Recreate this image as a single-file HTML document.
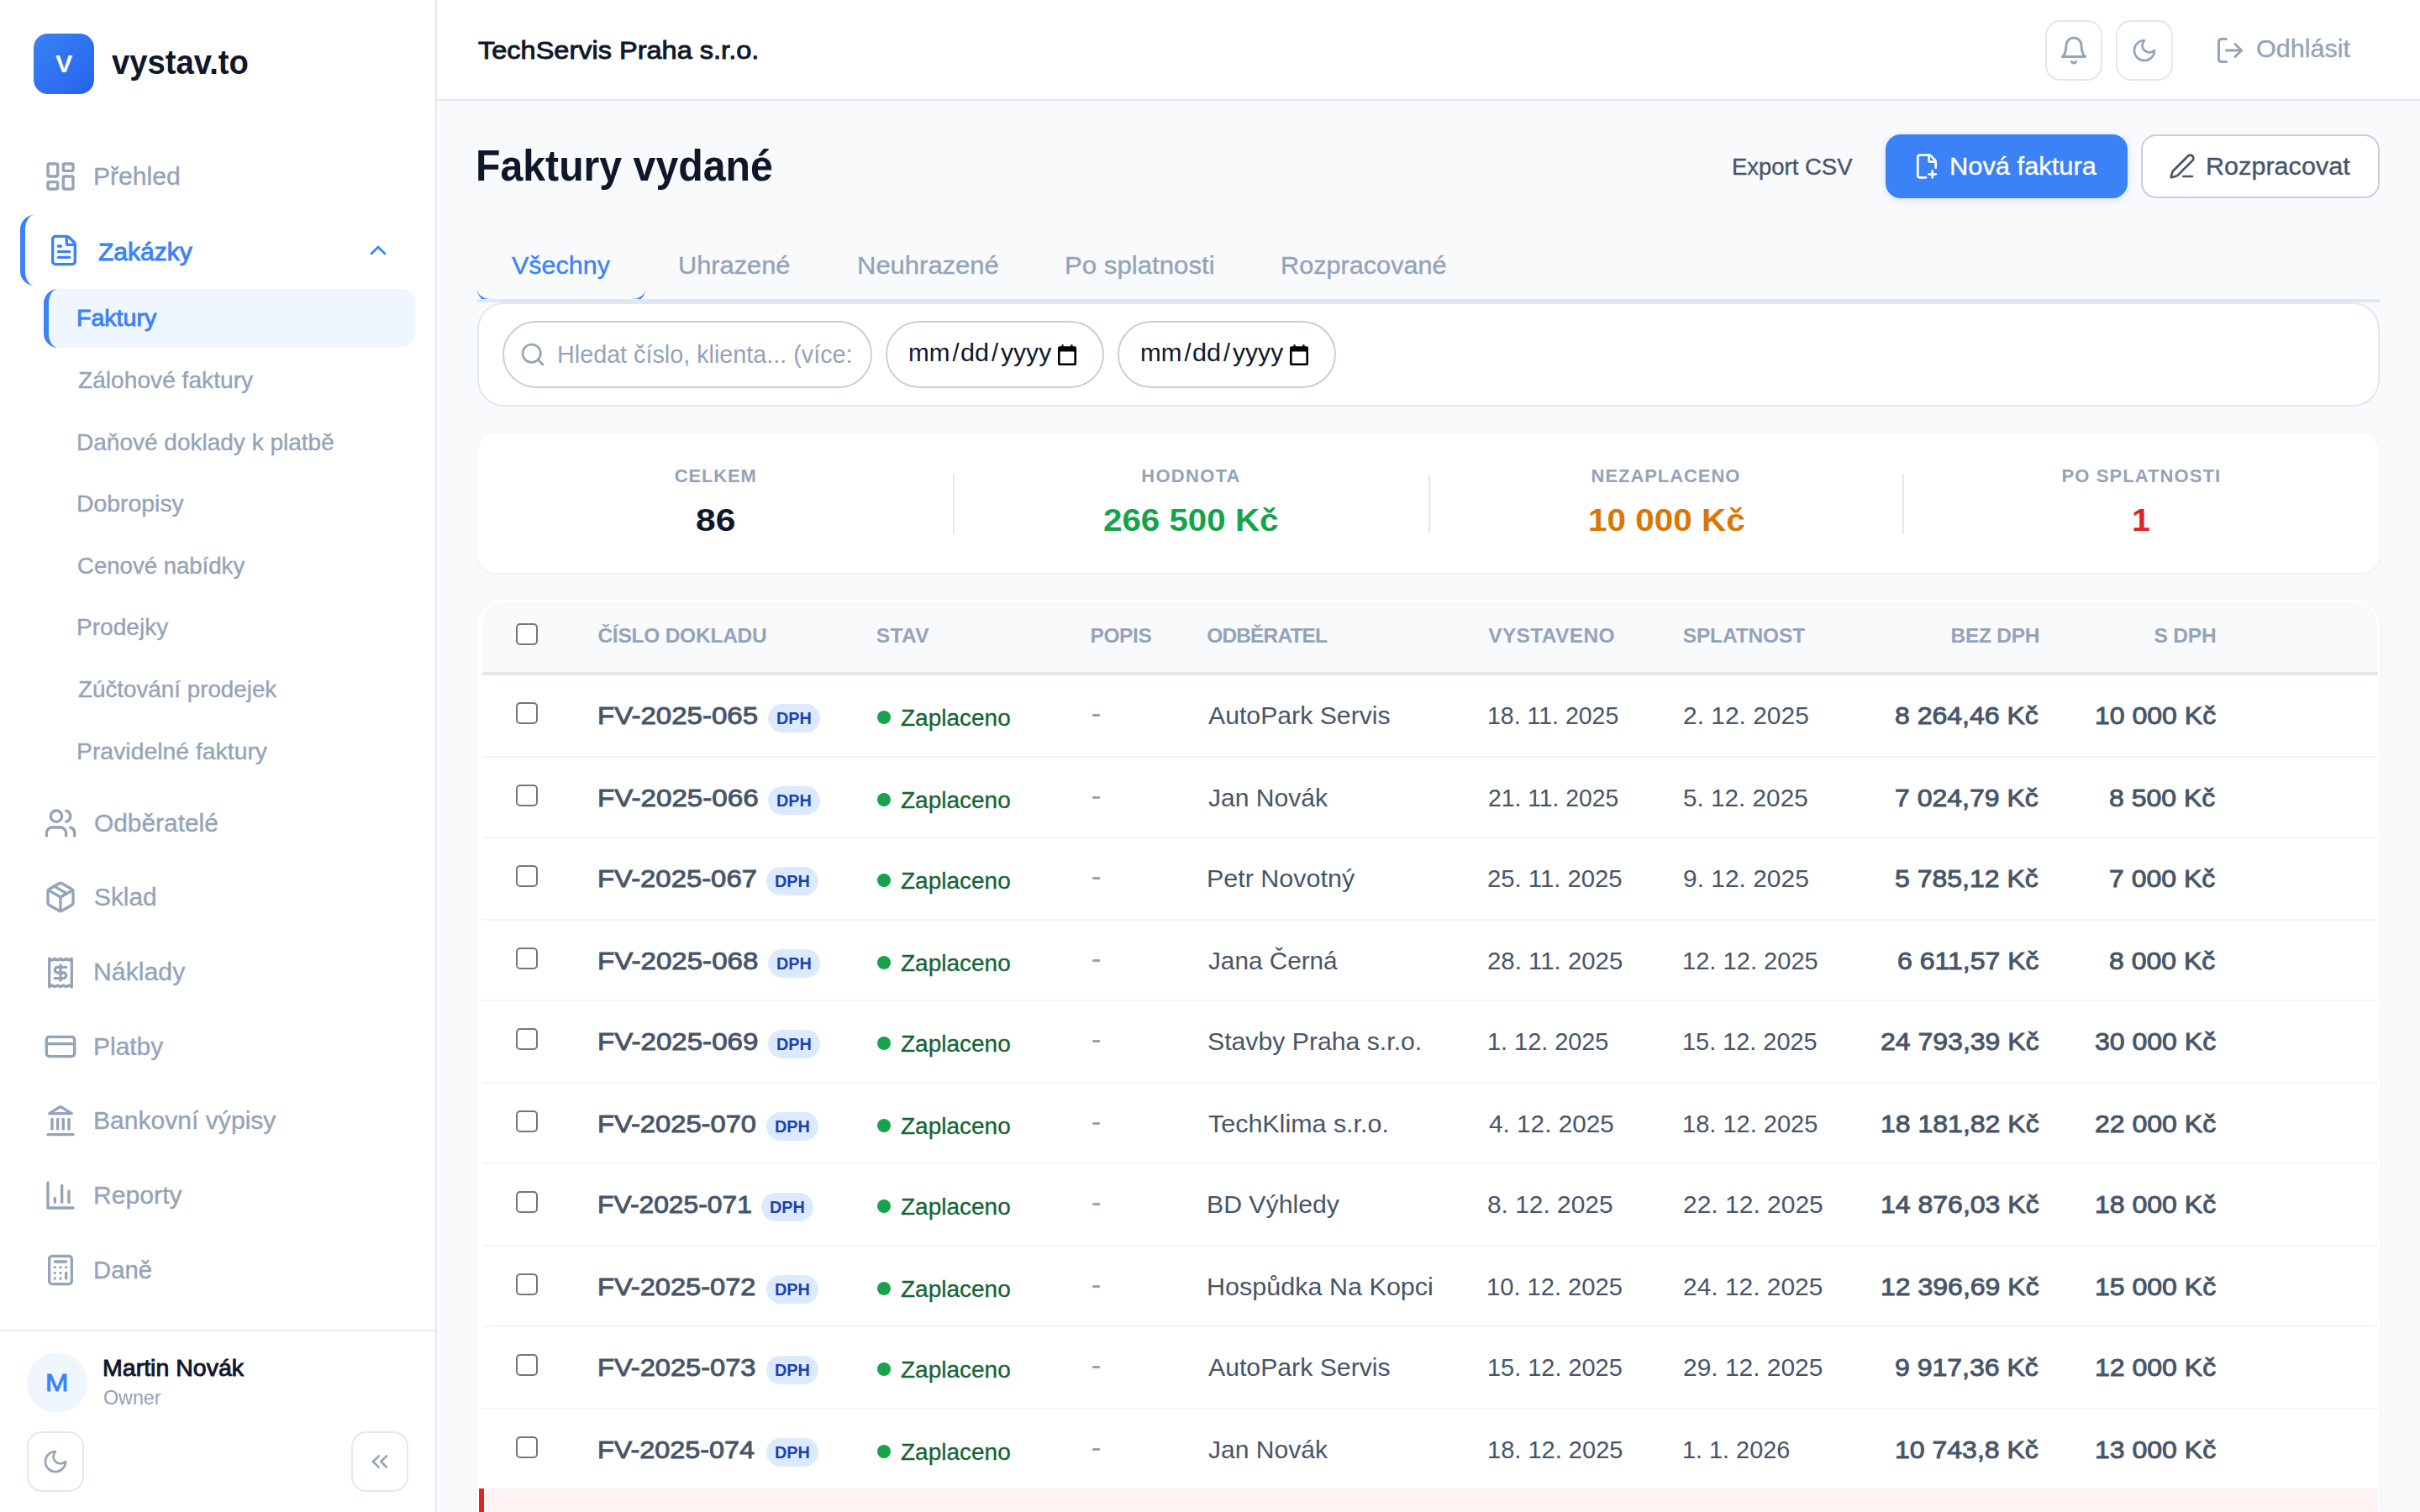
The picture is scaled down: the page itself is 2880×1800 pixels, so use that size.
<!DOCTYPE html>
<html lang="cs"><head><meta charset="utf-8"><title>Faktury vydané</title>
<style>
*{box-sizing:border-box;margin:0;padding:0}
html,body{width:2880px;height:1800px;overflow:hidden;background:#f8fafc;font-family:"Liberation Sans",sans-serif}
.a{position:absolute}
.t{position:absolute;white-space:pre;line-height:1;transform-origin:0 0;font-family:"Liberation Sans",sans-serif;z-index:5}
svg.i{position:absolute;fill:none;stroke-width:2;stroke-linecap:round;stroke-linejoin:round;z-index:4}
.g{stroke:#94a3b8}.b{stroke:#3b82f6}
.cb{position:absolute;width:26px;height:26px;border:2px solid #767676;border-radius:5px;background:#fff;left:614px}
.sep{position:absolute;left:574px;width:2256px;height:2px;background:#f1f5f9}
.badge{position:absolute;left:914px;width:62px;height:34px;border-radius:17px;background:#dbeafe}
.dot{position:absolute;left:1044px;width:16px;height:16px;border-radius:8px;background:#16a34a}
.dash{position:absolute;left:1299.5px;width:9.5px;height:2.4px;background:#94a3b8;border-radius:1px}
.ib{position:absolute;border:2px solid #e2e8f0;border-radius:18px;background:#fff}
</style></head><body>
<!-- ================= SIDEBAR ================= -->
<div class="a" style="left:0;top:0;width:520px;height:1800px;background:#fff;border-right:2px solid #e2e8f0"></div>
<div class="a" style="left:40px;top:40px;width:72px;height:72px;border-radius:17px;background:linear-gradient(135deg,#3b82f6 0%,#2563eb 100%)"></div>
<!-- Zakazky active group -->
<div class="a" style="left:24px;top:256px;width:476px;height:84px;border-left:6px solid #3b82f6;border-radius:17px"></div>
<!-- Faktury active sub -->
<div class="a" style="left:52px;top:344px;width:442px;height:70px;background:#eff6ff;border-left:6px solid #3b82f6;border-radius:17px"></div>
<!-- sidebar icons -->
<svg class="i g" style="left:52px;top:190px" width="40" height="40" viewBox="0 0 24 24"><rect width="7" height="9" x="3" y="3" rx="1"/><rect width="7" height="5" x="14" y="3" rx="1"/><rect width="7" height="9" x="14" y="12" rx="1"/><rect width="7" height="5" x="3" y="16" rx="1"/></svg>
<svg class="i b" style="left:56px;top:278px" width="40" height="40" viewBox="0 0 24 24"><path d="M6 22a2 2 0 0 1-2-2V4a2 2 0 0 1 2-2h8a2.4 2.4 0 0 1 1.704.706l3.588 3.588A2.4 2.4 0 0 1 20 8v12a2 2 0 0 1-2 2z"/><path d="M14 2v5a1 1 0 0 0 1 1h5"/><path d="M10 9H8"/><path d="M16 13H8"/><path d="M16 17H8"/></svg>
<svg class="i b" style="left:434px;top:282px" width="32" height="32" viewBox="0 0 24 24"><path d="m18 15-6-6-6 6"/></svg>
<svg class="i g" style="left:52px;top:960px" width="40" height="40" viewBox="0 0 24 24"><path d="M16 21v-2a4 4 0 0 0-4-4H6a4 4 0 0 0-4 4v2"/><circle cx="9" cy="7" r="4"/><path d="M22 21v-2a4 4 0 0 0-3-3.87"/><path d="M16 3.13a4 4 0 0 1 0 7.75"/></svg>
<svg class="i g" style="left:52px;top:1048px" width="40" height="40" viewBox="0 0 24 24"><path d="m7.5 4.27 9 5.15"/><path d="M21 8a2 2 0 0 0-1-1.73l-7-4a2 2 0 0 0-2 0l-7 4A2 2 0 0 0 3 8v8a2 2 0 0 0 1 1.73l7 4a2 2 0 0 0 2 0l7-4A2 2 0 0 0 21 16Z"/><path d="m3.3 7 8.7 5 8.7-5"/><path d="M12 22V12"/></svg>
<svg class="i g" style="left:52px;top:1138px" width="40" height="40" viewBox="0 0 24 24"><path d="M4 2v20l2-1 2 1 2-1 2 1 2-1 2 1 2-1 2 1V2l-2 1-2-1-2 1-2-1-2 1-2-1-2 1Z"/><path d="M16 8h-6a2 2 0 1 0 0 4h4a2 2 0 1 1 0 4H8"/><path d="M12 17.5v-11"/></svg>
<svg class="i g" style="left:52px;top:1225.8px" width="40" height="40" viewBox="0 0 24 24"><rect width="20" height="14" x="2" y="5" rx="2"/><line x1="2" x2="22" y1="10" y2="10"/></svg>
<svg class="i g" style="left:52px;top:1314.4px" width="40" height="40" viewBox="0 0 24 24"><line x1="3" x2="21" y1="22" y2="22"/><line x1="6" x2="6" y1="18" y2="11"/><line x1="10" x2="10" y1="18" y2="11"/><line x1="14" x2="14" y1="18" y2="11"/><line x1="18" x2="18" y1="18" y2="11"/><polygon points="12 2 20 7 4 7"/></svg>
<svg class="i g" style="left:52px;top:1403px" width="40" height="40" viewBox="0 0 24 24"><path d="M3 3v18h18"/><path d="M18 17V9"/><path d="M13 17V5"/><path d="M8 17v-3"/></svg>
<svg class="i g" style="left:52px;top:1491.6px" width="40" height="40" viewBox="0 0 24 24"><rect width="16" height="20" x="4" y="2" rx="2"/><line x1="8" x2="16" y1="6" y2="6"/><line x1="16" x2="16" y1="14" y2="18"/><path d="M16 10h.01"/><path d="M12 10h.01"/><path d="M8 10h.01"/><path d="M12 14h.01"/><path d="M8 14h.01"/><path d="M12 18h.01"/><path d="M8 18h.01"/></svg>
<!-- sidebar footer -->
<div class="a" style="left:0;top:1583px;width:518px;height:2px;background:#e2e8f0"></div>
<div class="a" style="left:32px;top:1610px;width:72px;height:72px;border-radius:36px;background:#eff6ff"></div>
<div class="ib" style="left:32px;top:1704px;width:68px;height:72px"></div>
<div class="ib" style="left:418px;top:1704px;width:68px;height:72px"></div>
<svg class="i g" style="left:50px;top:1724px" width="32" height="32" viewBox="0 0 24 24"><path d="M12 3a6 6 0 0 0 9 9 9 9 0 1 1-9-9Z"/></svg>
<svg class="i g" style="left:436px;top:1724px" width="32" height="32" viewBox="0 0 24 24"><path d="m11 17-5-5 5-5"/><path d="m18 17-5-5 5-5"/></svg>
<!-- ================= HEADER ================= -->
<div class="a" style="left:520px;top:0;width:2360px;height:120px;background:#fff;border-bottom:2px solid #e2e8f0"></div>
<div class="ib" style="left:2434px;top:24px;width:68px;height:72px"></div>
<div class="ib" style="left:2518px;top:24px;width:68px;height:72px"></div>
<svg class="i g" style="left:2450px;top:42px" width="36" height="36" viewBox="0 0 24 24"><path d="M6 8a6 6 0 0 1 12 0c0 7 3 9 3 9H3s3-2 3-9"/><path d="M10.3 21a1.94 1.94 0 0 0 3.4 0"/></svg>
<svg class="i g" style="left:2536px;top:44px" width="32" height="32" viewBox="0 0 24 24"><path d="M12 3a6 6 0 0 0 9 9 9 9 0 1 1-9-9Z"/></svg>
<svg class="i g" style="left:2636px;top:42px" width="36" height="36" viewBox="0 0 24 24"><path d="M9 21H5a2 2 0 0 1-2-2V5a2 2 0 0 1 2-2h4"/><polyline points="16 17 21 12 16 7"/><line x1="21" x2="9" y1="12" y2="12"/></svg>
<!-- ================= TITLE ROW ================= -->
<div class="a" style="left:2244px;top:160px;width:288px;height:76px;border-radius:18px;background:#3b82f6;box-shadow:0 2px 8px rgba(59,130,246,.2)"></div>
<svg class="i" style="left:2277px;top:182px;stroke:#fff" width="32" height="32" viewBox="0 0 24 24"><path d="M11.35 22H6a2 2 0 0 1-2-2V4a2 2 0 0 1 2-2h8a2.4 2.4 0 0 1 1.706.706l3.588 3.588A2.4 2.4 0 0 1 20 8v5.35"/><path d="M14 2v5a1 1 0 0 0 1 1h5"/><path d="M14 19h6"/><path d="M17 16v6"/></svg>
<div class="a" style="left:2548px;top:160px;width:284px;height:76px;border-radius:18px;background:#fff;border:2px solid #c9cfd9"></div>
<svg class="i" style="left:2581px;top:182px;stroke:#475569" width="32" height="32" viewBox="0 0 24 24"><path d="M13 21h8"/><path d="M21.174 6.812a1 1 0 0 0-3.986-3.987L3.842 16.174a2 2 0 0 0-.5.83l-1.321 4.352a.5.5 0 0 0 .623.622l4.353-1.32a2 2 0 0 0 .83-.497z"/></svg>
<!-- ================= TABS ================= -->
<div class="a" style="left:568px;top:300px;width:200px;height:60px;border-bottom:4px solid #3b82f6;border-radius:0 0 16px 16px"></div>
<div class="a" style="left:568px;top:356px;width:2264px;height:4px;background:#e2e8f0"></div>
<!-- ================= FILTER CARD ================= -->
<div class="a" style="left:568px;top:360px;width:2264px;height:124px;border:2px solid #e2e8f0;border-radius:32px;background:#fff"></div>
<div class="a" style="left:598px;top:382px;width:440px;height:80px;border:2px solid #c9cfd9;border-radius:40px;background:#fff"></div>
<svg class="i g" style="left:618px;top:406px" width="32" height="32" viewBox="0 0 24 24"><circle cx="11" cy="11" r="8"/><path d="m21 21-4.3-4.3"/></svg>
<div class="a" style="left:1054px;top:382px;width:260px;height:80px;border:2px solid #c9cfd9;border-radius:40px;background:#fff"></div>
<div class="a" style="left:1330px;top:382px;width:260px;height:80px;border:2px solid #c9cfd9;border-radius:40px;background:#fff"></div>
<svg class="a" style="left:1258px;top:409px;z-index:4" width="24" height="26" viewBox="0 0 24 26"><path fill="#000" d="M5.5 1.2h2.2v2h8.600v-2h2.200v2H21a2 2 0 0 1 2 2v18.800a2 2 0 0 1-2 2H3a2 2 0 0 1-2-2V5.200a2 2 0 0 1 2-2h2.500zM3.600 9.600v14h16.800v-14z"/></svg>
<svg class="a" style="left:1534px;top:409px;z-index:4" width="24" height="26" viewBox="0 0 24 26"><path fill="#000" d="M5.5 1.2h2.2v2h8.600v-2h2.200v2H21a2 2 0 0 1 2 2v18.800a2 2 0 0 1-2 2H3a2 2 0 0 1-2-2V5.200a2 2 0 0 1 2-2h2.500zM3.600 9.600v14h16.800v-14z"/></svg>
<!-- ================= STATS CARD ================= -->
<div class="a" style="left:568px;top:516px;width:2264px;height:166px;border-radius:24px;background:#fff;box-shadow:0 2px 6px rgba(15,23,42,.04)"></div>
<div class="a" style="left:1134px;top:564px;width:2px;height:72px;background:#e2e8f0"></div>
<div class="a" style="left:1700px;top:564px;width:2px;height:72px;background:#e2e8f0"></div>
<div class="a" style="left:2264px;top:564px;width:2px;height:72px;background:#e2e8f0"></div>
<!-- ================= TABLE CARD ================= -->
<div class="a" style="left:568px;top:714px;width:2264px;height:1086px;border-radius:32px 32px 0 0;background:#fff;box-shadow:0 2px 6px rgba(15,23,42,.04)"></div>
<div class="a" style="left:574px;top:716px;width:2256px;height:84px;background:#f8fafc;border-radius:27px 30px 0 0"></div>
<div class="a" style="left:574px;top:800px;width:2256px;height:4px;background:#e2e8f0"></div>
<div class="cb" style="top:742px"></div>
<!--ROWS-->
<span class="t" style="left:65.90px;top:62.00px;font-size:29px;color:#ffffff;transform:scaleX(1.0526);font-weight:bold;">V</span>
<span class="t" style="left:132.70px;top:54.20px;font-size:41px;color:#0f172a;transform:scaleX(0.9328);font-weight:bold;">vystav.to</span>
<span class="t" style="left:110.92px;top:196.00px;font-size:29px;color:#94a3b8;transform:scaleX(1.0381);-webkit-text-stroke:0.35px #94a3b8;">Přehled</span>
<span class="t" style="left:117.00px;top:286.20px;font-size:29px;color:#3b82f6;transform:scaleX(1.0358);-webkit-text-stroke:0.9px #3b82f6;">Zakázky</span>
<span class="t" style="left:90.86px;top:365.00px;font-size:28px;color:#3b82f6;transform:scaleX(1.0196);-webkit-text-stroke:0.9px #3b82f6;">Faktury</span>
<span class="t" style="left:92.90px;top:439.00px;font-size:28px;color:#94a3b8;transform:scaleX(1.0053);-webkit-text-stroke:0.35px #94a3b8;">Zálohové faktury</span>
<span class="t" style="left:90.90px;top:512.70px;font-size:28px;color:#94a3b8;transform:scaleX(1.0003);-webkit-text-stroke:0.35px #94a3b8;">Daňové doklady k platbě</span>
<span class="t" style="left:90.87px;top:586.40px;font-size:28px;color:#94a3b8;transform:scaleX(1.0137);-webkit-text-stroke:0.35px #94a3b8;">Dobropisy</span>
<span class="t" style="left:91.92px;top:660.20px;font-size:28px;color:#94a3b8;transform:scaleX(0.9842);-webkit-text-stroke:0.35px #94a3b8;">Cenové nabídky</span>
<span class="t" style="left:90.89px;top:732.90px;font-size:28px;color:#94a3b8;transform:scaleX(1.0028);-webkit-text-stroke:0.35px #94a3b8;">Prodejky</span>
<span class="t" style="left:92.90px;top:807.20px;font-size:28px;color:#94a3b8;transform:scaleX(0.9921);-webkit-text-stroke:0.35px #94a3b8;">Zúčtování prodejek</span>
<span class="t" style="left:90.87px;top:880.80px;font-size:28px;color:#94a3b8;transform:scaleX(1.0131);-webkit-text-stroke:0.35px #94a3b8;">Pravidelné faktury</span>
<span class="t" style="left:111.97px;top:966.00px;font-size:29px;color:#94a3b8;transform:scaleX(1.0303);-webkit-text-stroke:0.35px #94a3b8;">Odběratelé</span>
<span class="t" style="left:111.97px;top:1053.60px;font-size:29px;color:#94a3b8;transform:scaleX(1.0286);-webkit-text-stroke:0.35px #94a3b8;">Sklad</span>
<span class="t" style="left:110.91px;top:1143.20px;font-size:29px;color:#94a3b8;transform:scaleX(1.0427);-webkit-text-stroke:0.35px #94a3b8;">Náklady</span>
<span class="t" style="left:110.93px;top:1231.80px;font-size:29px;color:#94a3b8;transform:scaleX(1.0329);-webkit-text-stroke:0.35px #94a3b8;">Platby</span>
<span class="t" style="left:110.92px;top:1320.20px;font-size:29px;color:#94a3b8;transform:scaleX(1.0375);-webkit-text-stroke:0.35px #94a3b8;">Bankovní výpisy</span>
<span class="t" style="left:110.92px;top:1409.00px;font-size:29px;color:#94a3b8;transform:scaleX(1.0400);-webkit-text-stroke:0.35px #94a3b8;">Reporty</span>
<span class="t" style="left:110.98px;top:1497.60px;font-size:29px;color:#94a3b8;transform:scaleX(1.0090);-webkit-text-stroke:0.35px #94a3b8;">Daně</span>
<span class="t" style="left:53.52px;top:1632.00px;font-size:29px;color:#3b82f6;transform:scaleX(1.1381);-webkit-text-stroke:0.9px #3b82f6;">M</span>
<span class="t" style="left:122.46px;top:1615.00px;font-size:28px;color:#0f172a;transform:scaleX(1.0189);-webkit-text-stroke:0.9px #0f172a;">Martin Novák</span>
<span class="t" style="left:123.49px;top:1653.00px;font-size:23px;color:#94a3b8;transform:scaleX(1.0119);">Owner</span>
<span class="t" style="left:569.00px;top:45.20px;font-size:30px;color:#0f172a;transform:scaleX(1.0837);-webkit-text-stroke:0.9px #0f172a;">TechServis Praha s.r.o.</span>
<span class="t" style="left:2684.55px;top:44.00px;font-size:29px;color:#94a3b8;transform:scaleX(1.0538);-webkit-text-stroke:0.35px #94a3b8;">Odhlásit</span>
<span class="t" style="left:566.22px;top:170.80px;font-size:52px;color:#0f172a;transform:scaleX(0.9273);font-weight:bold;">Faktury vydané</span>
<span class="t" style="left:2060.97px;top:185.70px;font-size:27px;color:#475569;transform:scaleX(1.0173);-webkit-text-stroke:0.35px #475569;">Export CSV</span>
<span class="t" style="left:2320.47px;top:183.70px;font-size:29px;color:#ffffff;transform:scaleX(1.0638);-webkit-text-stroke:0.35px #ffffff;">Nová faktura</span>
<span class="t" style="left:2625.39px;top:184.30px;font-size:29px;color:#475569;transform:scaleX(1.0547);-webkit-text-stroke:0.35px #475569;">Rozpracovat</span>
<span class="t" style="left:609.30px;top:301.60px;font-size:29px;color:#3b82f6;transform:scaleX(1.0509);-webkit-text-stroke:0.35px #3b82f6;">Všechny</span>
<span class="t" style="left:807.38px;top:301.60px;font-size:29px;color:#94a3b8;transform:scaleX(1.0610);-webkit-text-stroke:0.35px #94a3b8;">Uhrazené</span>
<span class="t" style="left:1019.76px;top:301.60px;font-size:29px;color:#94a3b8;transform:scaleX(1.0684);-webkit-text-stroke:0.35px #94a3b8;">Neuhrazené</span>
<span class="t" style="left:1266.85px;top:301.60px;font-size:29px;color:#94a3b8;transform:scaleX(1.0755);-webkit-text-stroke:0.35px #94a3b8;">Po splatnosti</span>
<span class="t" style="left:1524.49px;top:301.60px;font-size:29px;color:#94a3b8;transform:scaleX(1.0565);-webkit-text-stroke:0.35px #94a3b8;">Rozpracované</span>
<span class="t" style="left:663.02px;top:407.70px;font-size:29px;color:#94a3b8;transform:scaleX(0.9914);">Hledat číslo, klienta... (více:</span>
<span class="t" style="left:1080.76px;top:406.00px;font-size:29px;color:#0f172a;transform:scaleX(1.0222);">mm</span>
<span class="t" style="left:1133.60px;top:406.00px;font-size:29px;color:#0f172a;">/</span>
<span class="t" style="left:1143.14px;top:406.00px;font-size:29px;color:#0f172a;transform:scaleX(1.0567);">dd</span>
<span class="t" style="left:1179.90px;top:406.00px;font-size:29px;color:#0f172a;">/</span>
<span class="t" style="left:1191.00px;top:406.00px;font-size:29px;color:#0f172a;transform:scaleX(1.0379);">yyyy</span>
<span class="t" style="left:1356.76px;top:406.00px;font-size:29px;color:#0f172a;transform:scaleX(1.0222);">mm</span>
<span class="t" style="left:1409.60px;top:406.00px;font-size:29px;color:#0f172a;">/</span>
<span class="t" style="left:1419.14px;top:406.00px;font-size:29px;color:#0f172a;transform:scaleX(1.0567);">dd</span>
<span class="t" style="left:1455.90px;top:406.00px;font-size:29px;color:#0f172a;">/</span>
<span class="t" style="left:1467.00px;top:406.00px;font-size:29px;color:#0f172a;transform:scaleX(1.0379);">yyyy</span>
<span class="t" style="left:802.70px;top:556.20px;font-size:22px;color:#94a3b8;letter-spacing:0.840px;font-weight:bold;">CELKEM</span>
<span class="t" style="left:1358.30px;top:556.20px;font-size:22px;color:#94a3b8;letter-spacing:1.267px;font-weight:bold;">HODNOTA</span>
<span class="t" style="left:1893.60px;top:556.20px;font-size:22px;color:#94a3b8;letter-spacing:0.930px;font-weight:bold;">NEZAPLACENO</span>
<span class="t" style="left:2453.60px;top:556.20px;font-size:22px;color:#94a3b8;letter-spacing:1.075px;font-weight:bold;">PO SPLATNOSTI</span>
<span class="t" style="left:828.42px;top:602.00px;font-size:36px;color:#0f172a;transform:scaleX(1.1816);font-weight:bold;">86</span>
<span class="t" style="left:1312.98px;top:602.00px;font-size:36px;color:#16a34a;transform:scaleX(1.1195);font-weight:bold;">266 500 Kč</span>
<span class="t" style="left:1889.65px;top:602.00px;font-size:36px;color:#d97706;transform:scaleX(1.1245);font-weight:bold;">10 000 Kč</span>
<span class="t" style="left:2536.81px;top:602.00px;font-size:36px;color:#dc2626;transform:scaleX(1.0941);font-weight:bold;">1</span>
<span class="t" style="left:711.40px;top:744.60px;font-size:24.5px;color:#94a3b8;letter-spacing:-0.233px;font-weight:bold;">ČÍSLO DOKLADU</span>
<span class="t" style="left:1042.80px;top:744.60px;font-size:24.5px;color:#94a3b8;letter-spacing:0.400px;font-weight:bold;">STAV</span>
<span class="t" style="left:1297.50px;top:744.60px;font-size:24.5px;color:#94a3b8;letter-spacing:-0.400px;font-weight:bold;">POPIS</span>
<span class="t" style="left:1436.30px;top:744.60px;font-size:24.5px;color:#94a3b8;letter-spacing:-0.875px;font-weight:bold;">ODBĚRATEL</span>
<span class="t" style="left:1771.20px;top:744.60px;font-size:24.5px;color:#94a3b8;letter-spacing:0.375px;font-weight:bold;">VYSTAVENO</span>
<span class="t" style="left:2002.70px;top:744.60px;font-size:24.5px;color:#94a3b8;letter-spacing:-0.138px;font-weight:bold;">SPLATNOST</span>
<span class="t" style="left:2321.50px;top:744.60px;font-size:24.5px;color:#94a3b8;letter-spacing:-0.250px;font-weight:bold;">BEZ DPH</span>
<span class="t" style="left:2563.50px;top:744.60px;font-size:24.5px;color:#94a3b8;letter-spacing:-0.175px;font-weight:bold;">S DPH</span>
<span class="t" style="left:710.72px;top:838.20px;font-size:29px;color:#475569;transform:scaleX(1.1394);-webkit-text-stroke:0.9px #475569;">FV-2025-065</span>
<span class="t" style="left:923.51px;top:845.40px;font-size:20px;color:#1e40af;transform:scaleX(0.9900);font-weight:bold;">DPH</span>
<span class="t" style="left:1072.40px;top:841.70px;font-size:27px;color:#166534;transform:scaleX(1.0368);-webkit-text-stroke:0.3px #166534;">Zaplaceno</span>
<span class="t" style="left:1437.70px;top:838.20px;font-size:29px;color:#475569;transform:scaleX(1.0420);">AutoPark Servis</span>
<span class="t" style="left:1769.54px;top:838.20px;font-size:29px;color:#475569;transform:scaleX(0.9821);">18. 11. 2025</span>
<span class="t" style="left:2002.97px;top:838.20px;font-size:29px;color:#475569;transform:scaleX(1.0322);">2. 12. 2025</span>
<span class="t" style="left:2255.30px;top:838.20px;font-size:29px;color:#475569;transform:scaleX(1.1039);-webkit-text-stroke:0.9px #475569;">8 264,46 Kč</span>
<span class="t" style="left:2492.50px;top:838.20px;font-size:29px;color:#475569;transform:scaleX(1.1038);-webkit-text-stroke:0.9px #475569;">10 000 Kč</span>
<span class="t" style="left:710.71px;top:936.20px;font-size:29px;color:#475569;transform:scaleX(1.1430);-webkit-text-stroke:0.9px #475569;">FV-2025-066</span>
<span class="t" style="left:923.51px;top:943.40px;font-size:20px;color:#1e40af;transform:scaleX(0.9900);font-weight:bold;">DPH</span>
<span class="t" style="left:1072.40px;top:939.70px;font-size:27px;color:#166534;transform:scaleX(1.0368);-webkit-text-stroke:0.3px #166534;">Zaplaceno</span>
<span class="t" style="left:1437.70px;top:936.20px;font-size:29px;color:#475569;transform:scaleX(1.0365);">Jan Novák</span>
<span class="t" style="left:1770.52px;top:936.20px;font-size:29px;color:#475569;transform:scaleX(0.9758);">21. 11. 2025</span>
<span class="t" style="left:2002.98px;top:936.20px;font-size:29px;color:#475569;transform:scaleX(1.0245);">5. 12. 2025</span>
<span class="t" style="left:2255.30px;top:936.20px;font-size:29px;color:#475569;transform:scaleX(1.1039);-webkit-text-stroke:0.9px #475569;">7 024,79 Kč</span>
<span class="t" style="left:2510.16px;top:936.20px;font-size:29px;color:#475569;transform:scaleX(1.1038);-webkit-text-stroke:0.9px #475569;">8 500 Kč</span>
<span class="t" style="left:710.73px;top:1032.20px;font-size:29px;color:#475569;transform:scaleX(1.1327);-webkit-text-stroke:0.9px #475569;">FV-2025-067</span>
<span class="t" style="left:921.81px;top:1039.40px;font-size:20px;color:#1e40af;transform:scaleX(0.9900);font-weight:bold;">DPH</span>
<span class="t" style="left:1072.40px;top:1035.70px;font-size:27px;color:#166534;transform:scaleX(1.0368);-webkit-text-stroke:0.3px #166534;">Zaplaceno</span>
<span class="t" style="left:1435.60px;top:1032.20px;font-size:29px;color:#475569;transform:scaleX(1.0506);">Petr Novotný</span>
<span class="t" style="left:1770.49px;top:1032.20px;font-size:29px;color:#475569;transform:scaleX(1.0096);">25. 11. 2025</span>
<span class="t" style="left:2002.97px;top:1032.20px;font-size:29px;color:#475569;transform:scaleX(1.0322);">9. 12. 2025</span>
<span class="t" style="left:2255.30px;top:1032.20px;font-size:29px;color:#475569;transform:scaleX(1.1039);-webkit-text-stroke:0.9px #475569;">5 785,12 Kč</span>
<span class="t" style="left:2510.16px;top:1032.20px;font-size:29px;color:#475569;transform:scaleX(1.1038);-webkit-text-stroke:0.9px #475569;">7 000 Kč</span>
<span class="t" style="left:710.72px;top:1130.20px;font-size:29px;color:#475569;transform:scaleX(1.1412);-webkit-text-stroke:0.9px #475569;">FV-2025-068</span>
<span class="t" style="left:923.71px;top:1137.40px;font-size:20px;color:#1e40af;transform:scaleX(0.9900);font-weight:bold;">DPH</span>
<span class="t" style="left:1072.40px;top:1133.70px;font-size:27px;color:#166534;transform:scaleX(1.0368);-webkit-text-stroke:0.3px #166534;">Zaplaceno</span>
<span class="t" style="left:1437.70px;top:1130.20px;font-size:29px;color:#475569;transform:scaleX(1.0247);">Jana Černá</span>
<span class="t" style="left:1770.49px;top:1130.20px;font-size:29px;color:#475569;transform:scaleX(1.0140);">28. 11. 2025</span>
<span class="t" style="left:2001.99px;top:1130.20px;font-size:29px;color:#475569;transform:scaleX(1.0031);">12. 12. 2025</span>
<span class="t" style="left:2257.50px;top:1130.20px;font-size:29px;color:#475569;transform:scaleX(1.1039);-webkit-text-stroke:0.9px #475569;">6 611,57 Kč</span>
<span class="t" style="left:2510.16px;top:1130.20px;font-size:29px;color:#475569;transform:scaleX(1.1038);-webkit-text-stroke:0.9px #475569;">8 000 Kč</span>
<span class="t" style="left:710.72px;top:1226.20px;font-size:29px;color:#475569;transform:scaleX(1.1412);-webkit-text-stroke:0.9px #475569;">FV-2025-069</span>
<span class="t" style="left:923.71px;top:1233.40px;font-size:20px;color:#1e40af;transform:scaleX(0.9900);font-weight:bold;">DPH</span>
<span class="t" style="left:1072.40px;top:1229.70px;font-size:27px;color:#166534;transform:scaleX(1.0368);-webkit-text-stroke:0.3px #166534;">Zaplaceno</span>
<span class="t" style="left:1436.66px;top:1226.20px;font-size:29px;color:#475569;transform:scaleX(1.0417);">Stavby Praha s.r.o.</span>
<span class="t" style="left:1769.51px;top:1226.20px;font-size:29px;color:#475569;transform:scaleX(0.9951);">1. 12. 2025</span>
<span class="t" style="left:2002.01px;top:1226.20px;font-size:29px;color:#475569;transform:scaleX(0.9962);">15. 12. 2025</span>
<span class="t" style="left:2237.63px;top:1226.20px;font-size:29px;color:#475569;transform:scaleX(1.1039);-webkit-text-stroke:0.9px #475569;">24 793,39 Kč</span>
<span class="t" style="left:2492.50px;top:1226.20px;font-size:29px;color:#475569;transform:scaleX(1.1038);-webkit-text-stroke:0.9px #475569;">30 000 Kč</span>
<span class="t" style="left:710.75px;top:1324.20px;font-size:29px;color:#475569;transform:scaleX(1.1273);-webkit-text-stroke:0.9px #475569;">FV-2025-070</span>
<span class="t" style="left:921.71px;top:1331.40px;font-size:20px;color:#1e40af;transform:scaleX(0.9900);font-weight:bold;">DPH</span>
<span class="t" style="left:1072.40px;top:1327.70px;font-size:27px;color:#166534;transform:scaleX(1.0368);-webkit-text-stroke:0.3px #166534;">Zaplaceno</span>
<span class="t" style="left:1437.70px;top:1324.20px;font-size:29px;color:#475569;transform:scaleX(1.0498);">TechKlima s.r.o.</span>
<span class="t" style="left:1771.50px;top:1324.20px;font-size:29px;color:#475569;transform:scaleX(1.0257);">4. 12. 2025</span>
<span class="t" style="left:2002.00px;top:1324.20px;font-size:29px;color:#475569;transform:scaleX(1.0006);">18. 12. 2025</span>
<span class="t" style="left:2237.63px;top:1324.20px;font-size:29px;color:#475569;transform:scaleX(1.1039);-webkit-text-stroke:0.9px #475569;">18 181,82 Kč</span>
<span class="t" style="left:2492.50px;top:1324.20px;font-size:29px;color:#475569;transform:scaleX(1.1038);-webkit-text-stroke:0.9px #475569;">22 000 Kč</span>
<span class="t" style="left:710.81px;top:1420.20px;font-size:29px;color:#475569;transform:scaleX(1.0964);-webkit-text-stroke:0.9px #475569;">FV-2025-071</span>
<span class="t" style="left:915.81px;top:1427.40px;font-size:20px;color:#1e40af;transform:scaleX(0.9900);font-weight:bold;">DPH</span>
<span class="t" style="left:1072.40px;top:1423.70px;font-size:27px;color:#166534;transform:scaleX(1.0368);-webkit-text-stroke:0.3px #166534;">Zaplaceno</span>
<span class="t" style="left:1435.62px;top:1420.20px;font-size:29px;color:#475569;transform:scaleX(1.0420);">BD Výhledy</span>
<span class="t" style="left:1770.47px;top:1420.20px;font-size:29px;color:#475569;transform:scaleX(1.0301);">8. 12. 2025</span>
<span class="t" style="left:2002.97px;top:1420.20px;font-size:29px;color:#475569;transform:scaleX(1.0344);">22. 12. 2025</span>
<span class="t" style="left:2237.63px;top:1420.20px;font-size:29px;color:#475569;transform:scaleX(1.1039);-webkit-text-stroke:0.9px #475569;">14 876,03 Kč</span>
<span class="t" style="left:2492.50px;top:1420.20px;font-size:29px;color:#475569;transform:scaleX(1.1038);-webkit-text-stroke:0.9px #475569;">18 000 Kč</span>
<span class="t" style="left:710.75px;top:1518.20px;font-size:29px;color:#475569;transform:scaleX(1.1242);-webkit-text-stroke:0.9px #475569;">FV-2025-072</span>
<span class="t" style="left:922.01px;top:1525.40px;font-size:20px;color:#1e40af;transform:scaleX(0.9900);font-weight:bold;">DPH</span>
<span class="t" style="left:1072.40px;top:1521.70px;font-size:27px;color:#166534;transform:scaleX(1.0368);-webkit-text-stroke:0.3px #166534;">Zaplaceno</span>
<span class="t" style="left:1435.59px;top:1518.20px;font-size:29px;color:#475569;transform:scaleX(1.0530);">Hospůdka Na Kopci</span>
<span class="t" style="left:1769.49px;top:1518.20px;font-size:29px;color:#475569;transform:scaleX(1.0038);">10. 12. 2025</span>
<span class="t" style="left:2002.97px;top:1518.20px;font-size:29px;color:#475569;transform:scaleX(1.0319);">24. 12. 2025</span>
<span class="t" style="left:2237.63px;top:1518.20px;font-size:29px;color:#475569;transform:scaleX(1.1039);-webkit-text-stroke:0.9px #475569;">12 396,69 Kč</span>
<span class="t" style="left:2492.50px;top:1518.20px;font-size:29px;color:#475569;transform:scaleX(1.1038);-webkit-text-stroke:0.9px #475569;">15 000 Kč</span>
<span class="t" style="left:710.75px;top:1614.20px;font-size:29px;color:#475569;transform:scaleX(1.1242);-webkit-text-stroke:0.9px #475569;">FV-2025-073</span>
<span class="t" style="left:922.01px;top:1621.40px;font-size:20px;color:#1e40af;transform:scaleX(0.9900);font-weight:bold;">DPH</span>
<span class="t" style="left:1072.40px;top:1617.70px;font-size:27px;color:#166534;transform:scaleX(1.0368);-webkit-text-stroke:0.3px #166534;">Zaplaceno</span>
<span class="t" style="left:1437.70px;top:1614.20px;font-size:29px;color:#475569;transform:scaleX(1.0420);">AutoPark Servis</span>
<span class="t" style="left:1769.51px;top:1614.20px;font-size:29px;color:#475569;transform:scaleX(0.9969);">15. 12. 2025</span>
<span class="t" style="left:2002.97px;top:1614.20px;font-size:29px;color:#475569;transform:scaleX(1.0319);">29. 12. 2025</span>
<span class="t" style="left:2255.30px;top:1614.20px;font-size:29px;color:#475569;transform:scaleX(1.1039);-webkit-text-stroke:0.9px #475569;">9 917,36 Kč</span>
<span class="t" style="left:2492.50px;top:1614.20px;font-size:29px;color:#475569;transform:scaleX(1.1038);-webkit-text-stroke:0.9px #475569;">12 000 Kč</span>
<span class="t" style="left:710.77px;top:1712.20px;font-size:29px;color:#475569;transform:scaleX(1.1145);-webkit-text-stroke:0.9px #475569;">FV-2025-074</span>
<span class="t" style="left:921.61px;top:1719.40px;font-size:20px;color:#1e40af;transform:scaleX(0.9900);font-weight:bold;">DPH</span>
<span class="t" style="left:1072.40px;top:1715.70px;font-size:27px;color:#166534;transform:scaleX(1.0368);-webkit-text-stroke:0.3px #166534;">Zaplaceno</span>
<span class="t" style="left:1437.70px;top:1712.20px;font-size:29px;color:#475569;transform:scaleX(1.0365);">Jan Novák</span>
<span class="t" style="left:1769.50px;top:1712.20px;font-size:29px;color:#475569;transform:scaleX(1.0013);">18. 12. 2025</span>
<span class="t" style="left:2002.01px;top:1712.20px;font-size:29px;color:#475569;transform:scaleX(0.9944);">1. 1. 2026</span>
<span class="t" style="left:2255.30px;top:1712.20px;font-size:29px;color:#475569;transform:scaleX(1.1039);-webkit-text-stroke:0.9px #475569;">10 743,8 Kč</span>
<span class="t" style="left:2492.50px;top:1712.20px;font-size:29px;color:#475569;transform:scaleX(1.1038);-webkit-text-stroke:0.9px #475569;">13 000 Kč</span>
<div class="cb" style="top:836px"></div>
<div class="badge" style="top:838px;left:913.9px"></div>
<div class="dot" style="top:846px"></div>
<div class="dash" style="top:850.4px"></div>
<div class="sep" style="top:900px"></div>
<div class="cb" style="top:934px"></div>
<div class="badge" style="top:936px;left:913.9px"></div>
<div class="dot" style="top:944px"></div>
<div class="dash" style="top:948.4px"></div>
<div class="sep" style="top:996px"></div>
<div class="cb" style="top:1030px"></div>
<div class="badge" style="top:1032px;left:912.2px"></div>
<div class="dot" style="top:1040px"></div>
<div class="dash" style="top:1044.4px"></div>
<div class="sep" style="top:1094px"></div>
<div class="cb" style="top:1128px"></div>
<div class="badge" style="top:1130px;left:914.1px"></div>
<div class="dot" style="top:1138px"></div>
<div class="dash" style="top:1142.4px"></div>
<div class="sep" style="top:1190px"></div>
<div class="cb" style="top:1224px"></div>
<div class="badge" style="top:1226px;left:914.1px"></div>
<div class="dot" style="top:1234px"></div>
<div class="dash" style="top:1238.4px"></div>
<div class="sep" style="top:1288px"></div>
<div class="cb" style="top:1322px"></div>
<div class="badge" style="top:1324px;left:912.1px"></div>
<div class="dot" style="top:1332px"></div>
<div class="dash" style="top:1336.4px"></div>
<div class="sep" style="top:1384px"></div>
<div class="cb" style="top:1418px"></div>
<div class="badge" style="top:1420px;left:906.2px"></div>
<div class="dot" style="top:1428px"></div>
<div class="dash" style="top:1432.4px"></div>
<div class="sep" style="top:1482px"></div>
<div class="cb" style="top:1516px"></div>
<div class="badge" style="top:1518px;left:912.4px"></div>
<div class="dot" style="top:1526px"></div>
<div class="dash" style="top:1530.4px"></div>
<div class="sep" style="top:1578px"></div>
<div class="cb" style="top:1612px"></div>
<div class="badge" style="top:1614px;left:912.4px"></div>
<div class="dot" style="top:1622px"></div>
<div class="dash" style="top:1626.4px"></div>
<div class="sep" style="top:1676px"></div>
<div class="cb" style="top:1710px"></div>
<div class="badge" style="top:1712px;left:912px"></div>
<div class="dot" style="top:1720px"></div>
<div class="dash" style="top:1724.4px"></div>
<div class="sep" style="top:1772px"></div>
<div class="a" style="left:576px;top:1774px;width:2254px;height:26px;background:#fef2f2"></div>
<div class="a" style="left:570px;top:1772px;width:6px;height:28px;background:#dc2626"></div>
</body></html>
